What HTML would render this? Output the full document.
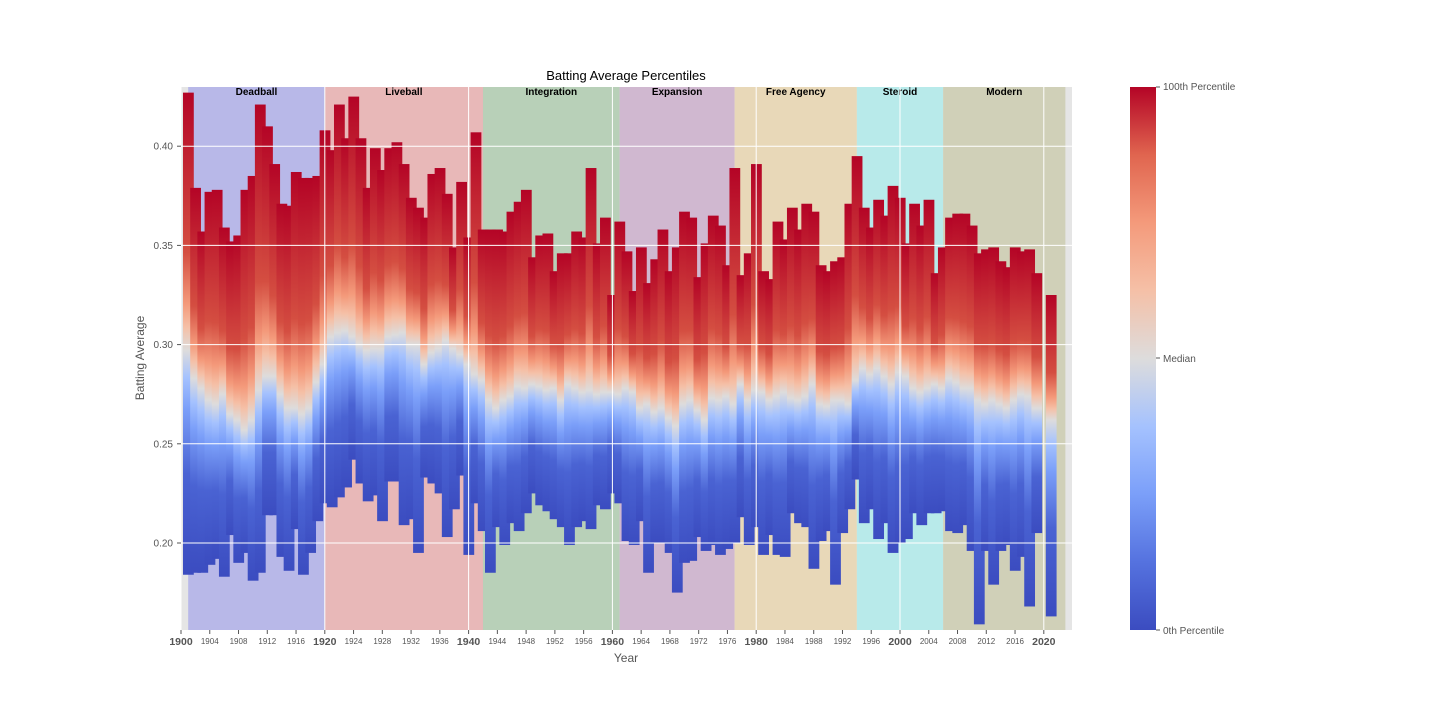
<!DOCTYPE html>
<html><head><meta charset="utf-8"><style>
body{margin:0;background:#fff;}
svg{display:block;font-family:"Liberation Sans",sans-serif;}
</style></head><body>
<svg id="chart" width="1440" height="720" viewBox="0 0 1440 720" xmlns="http://www.w3.org/2000/svg">
<defs id="defs">
<linearGradient id="cbar" x1="0" y1="1" x2="0" y2="0">
<stop offset="0" stop-color="#3b4cc0"/><stop offset="0.125" stop-color="#5572df"/><stop offset="0.25" stop-color="#7b9ff9"/><stop offset="0.375" stop-color="#a5c2fe"/><stop offset="0.5" stop-color="#dddcdc"/><stop offset="0.625" stop-color="#f5c0a7"/><stop offset="0.75" stop-color="#f49a7b"/><stop offset="0.875" stop-color="#e0654f"/><stop offset="1" stop-color="#b40426"/>
</linearGradient>
</defs>
<text x="626" y="80" font-size="13" text-anchor="middle" fill="#000">Batting Average Percentiles</text>
<rect x="181" y="87" width="891" height="543" fill="#e5e5e5"/>
<g id="eras"></g>
<g id="bars"></g>
<g id="grid"></g>
<g id="axes"></g>
<text x="626" y="662" font-size="12" text-anchor="middle" fill="#555">Year</text>
<text x="144" y="358" font-size="12" text-anchor="middle" fill="#555" transform="rotate(-90 144 358)">Batting Average</text>
<rect x="1130" y="87" width="26" height="543" fill="url(#cbar)"/>
<g font-size="10" fill="#555">
<line x1="1156" y1="87" x2="1160" y2="87" stroke="#555"/><text x="1163" y="90">100th Percentile</text>
<line x1="1156" y1="358" x2="1160" y2="358" stroke="#555"/><text x="1163" y="362">Median</text>
<line x1="1156" y1="630" x2="1160" y2="630" stroke="#555"/><text x="1163" y="634">0th Percentile</text>
</g>
</svg>
<script>
const years=[];for(let y=1900;y<=2020;y++)years.push(y);
const maxVals=[.427,.379,.357,.377,.378,.359,.352,.355,.378,.385,.421,.410,.391,.371,.370,.387,.384,.384,.385,.408,
.398,.421,.404,.425,.404,.379,.399,.388,.399,.402,.391,.374,.369,.364,.386,.389,.376,.349,.382,.354,
.407,.358,.358,.358,.357,.367,.372,.378,.344,.355,.356,.337,.346,.346,.357,.354,.389,.351,.364,.325,
.362,.347,.327,.349,.331,.343,.358,.337,.349,.367,.364,.334,.351,.365,.360,.340,.389,.335,.346,.391,
.337,.333,.362,.353,.369,.358,.371,.367,.340,.337,.342,.344,.371,.395,.369,.359,.373,.365,.380,.374,
.351,.371,.360,.373,.336,.349,.364,.366,.366,.360,.346,.348,.349,.342,.339,.349,.347,.348,.336,null,.325];
const minVals=[.184,.185,.185,.189,.192,.183,.204,.190,.195,.181,.185,.214,.214,.193,.186,.207,.184,.195,.211,.220,
.218,.223,.228,.242,.230,.221,.224,.211,.231,.231,.209,.212,.195,.233,.230,.225,.203,.217,.234,.194,
.220,.206,.185,.208,.199,.210,.206,.215,.225,.219,.216,.212,.208,.199,.208,.211,.207,.219,.217,.225,
.220,.201,.199,.211,.185,.200,.200,.195,.175,.190,.191,.203,.196,.199,.194,.197,.200,.213,.199,.208,
.194,.204,.194,.193,.215,.210,.208,.187,.201,.206,.179,.205,.217,.232,.210,.217,.202,.210,.195,.200,
.202,.215,.209,.215,.215,.216,.206,.205,.209,.196,.159,.196,.179,.196,.199,.186,.193,.168,.205,null,.163];
const medVals=[.297,.283,.278,.272,.270,.275,.265,.262,.257,.262,.277,.284,.284,.275,.268,.268,.265,.268,.281,.290,
.304,.306,.307,.304,.300,.297,.298,.298,.304,.305,.306,.300,.300,.290,.296,.298,.302,.298,.295,.290,
.285,.282,.272,.268,.272,.274,.279,.278,.280,.279,.277,.278,.272,.280,.278,.276,.277,.275,.276,.276,
.275,.278,.276,.268,.270,.266,.268,.263,.259,.270,.272,.267,.262,.273,.272,.274,.270,.280,.272,.277,
.276,.272,.274,.276,.273,.272,.274,.280,.270,.269,.272,.272,.270,.282,.288,.285,.288,.284,.280,.286,
.284,.278,.276,.278,.280,.278,.283,.281,.278,.278,.272,.270,.272,.270,.268,.272,.275,.274,.268,null,.262];
const eraNames=["Deadball","Liveball","Integration","Expansion","Free Agency","Steroid","Modern"];
const eraStarts=[1901,1920,1942,1961,1977,1994,2006];
const eraEnds=[1920,1942,1961,1977,1994,2006,2023];
const eraColors=["#b8b8e8","#e8b8b8","#b8d0b8","#d0b8d0","#e8d8b8","#b8eaea","#d0d0b8"];
const yTicks=[0.20,0.25,0.30,0.35,0.40];
const xMajor=[1900,1920,1940,1960,1980,2000,2020];

const NS="http://www.w3.org/2000/svg";
const X0=181,XS=7.19,Y0=543,YS=1984;
function xs(y){return X0+(y-1900)*XS;}
function ys(v){return Y0-(v-0.2)*YS;}
function mk(tag,attrs,parent){const e=document.createElementNS(NS,tag);for(const k in attrs)e.setAttribute(k,attrs[k]);parent.appendChild(e);return e;}

const eras=document.getElementById('eras');
eraNames.forEach((n,i)=>{
  const r=mk('rect',{x:xs(eraStarts[i]),y:87,width:xs(eraEnds[i])-xs(eraStarts[i]),height:543,fill:eraColors[i]},eras);
  
  
  const t=mk('text',{x:(xs(eraStarts[i])+xs(eraEnds[i]))/2,y:95,'font-size':10,'font-weight':'bold','text-anchor':'middle',fill:'#000'},eras);
  t.textContent=n;
  
  
});

const defs=document.getElementById('defs');
const bars=document.getElementById('bars');
const pStops=[[0,'#3b4cc0'],[10,'#4a63d3'],[25,'#7b9ff9'],[37.5,'#a5c2fe'],[50,'#dddcdc'],[62.5,'#f5c0a7'],[75,'#f49a7b'],[90,'#d44e41'],[100,'#b40426']];
const lowF={0:0,10:0.45,25:0.74,37.5:0.88,50:1};
const upF={62.5:0.09,75:0.18,90:0.38,100:1};
years.forEach((yr,i)=>{
  const mx=maxVals[i],mn=minVals[i],md=medVals[i];
  if(mx==null)return;
  const g=mk('linearGradient',{id:'g'+yr,x1:0,y1:1,x2:0,y2:0},defs);
  pStops.forEach(([p,c])=>{
    const v=p<=50?mn+lowF[p]*(md-mn):md+upF[p]*(mx-md);
    mk('stop',{offset:((v-mn)/(mx-mn)).toFixed(4),'stop-color':c},g);
  });
  const r=mk('rect',{x:xs(yr)+2,y:ys(mx),width:XS*1.5,height:ys(mn)-ys(mx),fill:'url(#g'+yr+')'},bars);
  
  
});

const grid=document.getElementById('grid');
yTicks.forEach(v=>{
  const l=mk('line',{x1:181,x2:1072,y1:ys(v),y2:ys(v),stroke:'#fff','stroke-width':1},grid);
  
  
});
xMajor.forEach(y=>{
  const l=mk('line',{x1:xs(y),x2:xs(y),y1:87,y2:630,stroke:'#fff','stroke-width':1},grid);
  
  
});

const axes=document.getElementById('axes');
yTicks.forEach(v=>{
  mk('line',{x1:177,x2:181,y1:ys(v),y2:ys(v),stroke:'#555'},axes);
  const t=mk('text',{x:173,y:ys(v)+3.5,'font-size':10,'text-anchor':'end',fill:'#555'},axes);
  t.textContent=v.toFixed(2);
  
  
});
for(let y=1900;y<=2020;y+=4){
  const major=xMajor.includes(y);
  mk('line',{x1:xs(y),x2:xs(y),y1:630,y2:634,stroke:'#555'},axes);
  const t=mk('text',{x:xs(y),y:major?645:644,'font-size':major?10.5:8,'font-weight':major?'bold':'normal','text-anchor':'middle',fill:'#555'},axes);
  t.textContent=y;
  
  
}
</script>
</body></html>
